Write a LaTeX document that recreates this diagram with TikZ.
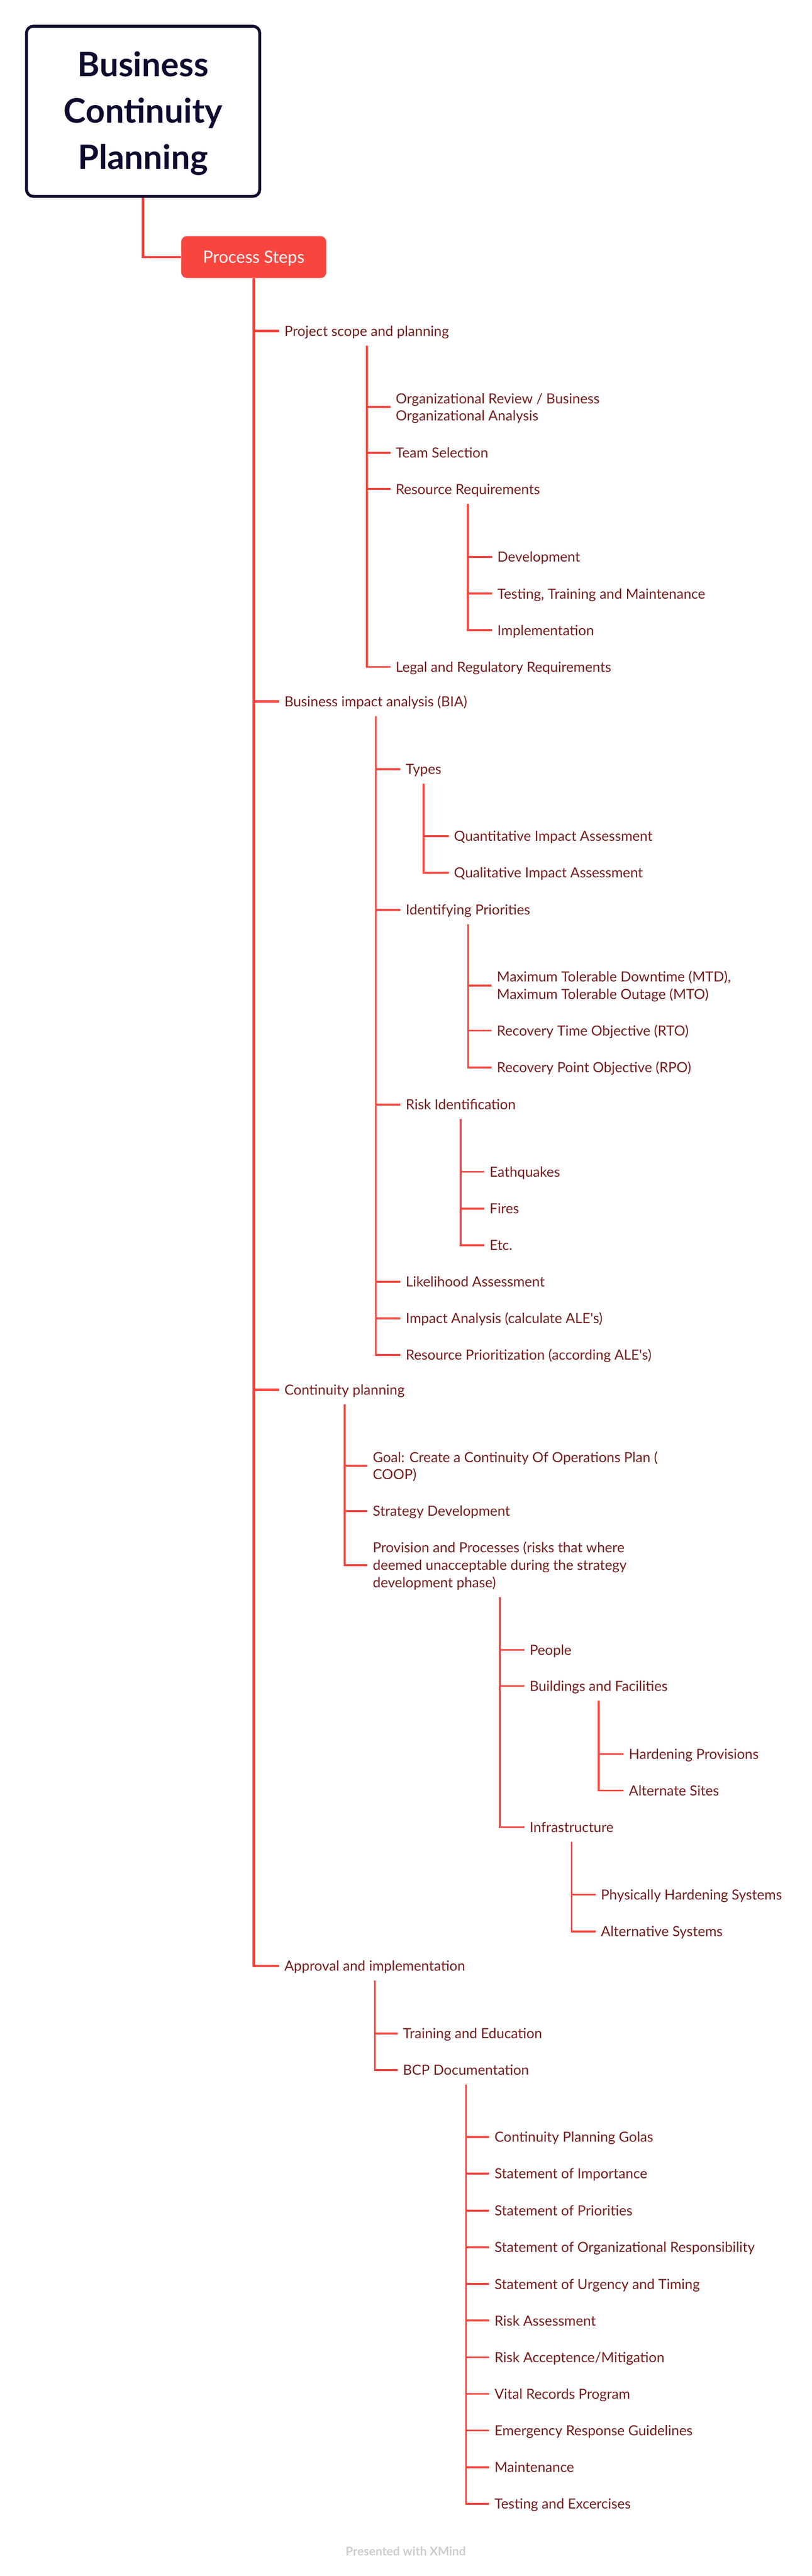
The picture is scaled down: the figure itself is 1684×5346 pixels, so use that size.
\documentclass[tikz,border=0pt]{standalone}
\usepackage{fontspec}
\setmainfont{Lato}
\definecolor{linered}{HTML}{F8463F}
\definecolor{txtred}{HTML}{761D1D}
\definecolor{navy}{HTML}{0D0B2E}
\definecolor{footgray}{HTML}{CDCDCD}
\newcommand\Lx[1]{\hbox{\vrule width0pt height28.4pt depth7.6pt\relax #1}}
\newcommand\Tx[1]{\vbox{\offinterlineskip #1}}
\newcommand\RL[1]{\hbox to 470pt{\hfil\vrule width0pt height72pt depth24pt\relax #1\hfil}}
\newcommand\br[2]{\draw[l2] ([xshift=-11pt]#2.west) -- (#2.west -| #1.south);}
\newcommand\vt[2]{\draw[l2] ([yshift=-12pt]#1.south) |- ([xshift=-11pt]#2.west);}
\begin{document}
\begin{tikzpicture}[x=1pt,y=-1pt,
  txt/.style={anchor=west, inner sep=0pt, text=txtred, font=\fontsize{29}{36}\selectfont},
  l1/.style={draw=linered, line width=5pt},
  l2/.style={draw=linered, line width=4pt},
  rootbox/.style={draw=navy, line width=6pt, rounded corners=14pt, fill=white, minimum width=484pt, minimum height=353pt, inner sep=0pt, text=navy, font=\fontsize{70}{80}\selectfont\bfseries},
  psbox/.style={fill=linered, rounded corners=12pt, minimum width=301pt, minimum height=87pt, inner sep=0pt, text=white, text height=24pt, text depth=0pt, font=\fontsize{35}{40}\selectfont}]
\useasboundingbox (0,0) rectangle (1684,5346);
\fill[white] (0,0) rectangle (1684,5346);
% root and main topic
\node[rootbox] (root) at (297,231) {\Tx{\RL{Business}\RL{Continuity}\RL{Planning}}};
\node[psbox] (ps) at (526.5,533.5) {Process Steps};
\draw[l1] (root.south) |- (ps.west);
% level 1
\node[txt] (L1a) at (590,687) {\Tx{\Lx{Project scope and planning}}};
\node[txt] (L1b) at (590,1456) {\Tx{\Lx{Business impact analysis (BIA)}}};
\node[txt] (L1c) at (590,2884) {\Tx{\Lx{Continuity planning}}};
\node[txt] (L1d) at (590,4080) {\Tx{\Lx{Approval and implementation}}};
\draw[l1] (ps.south) |- ([xshift=-11pt]L1d.west);
\foreach \n in {L1a,L1b,L1c}{\draw[l1] ([xshift=-11pt]\n.west) -- (\n.west -| ps.south);}
% project scope
\node[txt] (a1) at (821,845) {\Tx{\Lx{Organizational Review / Business}\Lx{Organizational Analysis}}};
\node[txt] (a2) at (821,940) {\Tx{\Lx{Team Selection}}};
\node[txt] (a3) at (821,1015) {\Tx{\Lx{Resource Requirements}}};
\node[txt] (a4) at (821,1384) {\Tx{\Lx{Legal and Regulatory Requirements}}};
\vt{L1a}{a4}\br{L1a}{a1}\br{L1a}{a2}\br{L1a}{a3}
\node[txt] (a31) at (1032,1156) {\Tx{\Lx{Development}}};
\node[txt] (a32) at (1032,1232) {\Tx{\Lx{Testing, Training and Maintenance}}};
\node[txt] (a33) at (1032,1308) {\Tx{\Lx{Implementation}}};
\vt{a3}{a33}\br{a3}{a31}\br{a3}{a32}
% BIA
\node[txt] (b1) at (842,1596) {\Tx{\Lx{Types}}};
\node[txt] (b2) at (842,1888) {\Tx{\Lx{Identifying Priorities}}};
\node[txt] (b3) at (842,2292) {\Tx{\Lx{Risk Identification}}};
\node[txt] (b4) at (842,2660) {\Tx{\Lx{Likelihood Assessment}}};
\node[txt] (b5) at (842,2736) {\Tx{\Lx{Impact Analysis (calculate ALE\textquotesingle s)}}};
\node[txt] (b6) at (842,2812) {\Tx{\Lx{Resource Prioritization (according ALE\textquotesingle s)}}};
\vt{L1b}{b6}\br{L1b}{b1}\br{L1b}{b2}\br{L1b}{b3}\br{L1b}{b4}\br{L1b}{b5}
\node[txt] (b11) at (942,1735) {\Tx{\Lx{Quantitative Impact Assessment}}};
\node[txt] (b12) at (942,1811) {\Tx{\Lx{Qualitative Impact Assessment}}};
\vt{b1}{b12}\br{b1}{b11}
\node[txt] (b21) at (1031,2045) {\Tx{\Lx{Maximum Tolerable Downtime (MTD),}\Lx{Maximum Tolerable Outage (MTO)}}};
\node[txt] (b22) at (1031,2139) {\Tx{\Lx{Recovery Time Objective (RTO)}}};
\node[txt] (b23) at (1031,2215) {\Tx{\Lx{Recovery Point Objective (RPO)}}};
\vt{b2}{b23}\br{b2}{b21}\br{b2}{b22}
\node[txt] (b31) at (1016,2432) {\Tx{\Lx{Eathquakes}}};
\node[txt] (b32) at (1016,2508) {\Tx{\Lx{Fires}}};
\node[txt] (b33) at (1016,2584) {\Tx{\Lx{Etc.}}};
\vt{b3}{b33}\br{b3}{b31}\br{b3}{b32}
% continuity planning
\node[txt] (c1) at (773.5,3042) {\Tx{\Lx{Goal: Create a Continuity Of Operations Plan (}\Lx{COOP)}}};
\node[txt] (c2) at (773.5,3136) {\Tx{\Lx{Strategy Development}}};
\node[txt] (c3) at (773.5,3248) {\Tx{\Lx{Provision and Processes (risks that where}\Lx{deemed unacceptable during the strategy}\Lx{development phase)}}};
\vt{L1c}{c3}\br{L1c}{c1}\br{L1c}{c2}
\node[txt] (c31) at (1099,3424) {\Tx{\Lx{People}}};
\node[txt] (c32) at (1099,3499) {\Tx{\Lx{Buildings and Facilities}}};
\node[txt] (c33) at (1099,3792) {\Tx{\Lx{Infrastructure}}};
\vt{c3}{c33}\br{c3}{c31}\br{c3}{c32}
\node[txt] (c321) at (1305,3640) {\Tx{\Lx{Hardening Provisions}}};
\node[txt] (c322) at (1305,3716) {\Tx{\Lx{Alternate Sites}}};
\vt{c32}{c322}\br{c32}{c321}
\node[txt] (c331) at (1247,3932) {\Tx{\Lx{Physically Hardening Systems}}};
\node[txt] (c332) at (1247,4008) {\Tx{\Lx{Alternative Systems}}};
\vt{c33}{c332}\br{c33}{c331}
% approval
\node[txt] (d1) at (836,4220) {\Tx{\Lx{Training and Education}}};
\node[txt] (d2) at (836,4296) {\Tx{\Lx{BCP Documentation}}};
\vt{L1d}{d2}\br{L1d}{d1}
\node[txt] (e1) at (1026,4435) {\Tx{\Lx{Continuity Planning Golas}}};
\node[txt] (e2) at (1026,4511) {\Tx{\Lx{Statement of Importance}}};
\node[txt] (e3) at (1026,4587.5) {\Tx{\Lx{Statement of Priorities}}};
\node[txt] (e4) at (1026,4664) {\Tx{\Lx{Statement of Organizational Responsibility}}};
\node[txt] (e5) at (1026,4740) {\Tx{\Lx{Statement of Urgency and Timing}}};
\node[txt] (e6) at (1026,4816) {\Tx{\Lx{Risk Assessment}}};
\node[txt] (e7) at (1026,4892) {\Tx{\Lx{Risk Acceptence/Mitigation}}};
\node[txt] (e8) at (1026,4968) {\Tx{\Lx{Vital Records Program}}};
\node[txt] (e9) at (1026,5044) {\Tx{\Lx{Emergency Response Guidelines}}};
\node[txt] (e10) at (1026,5120) {\Tx{\Lx{Maintenance}}};
\node[txt] (e11) at (1026,5196) {\Tx{\Lx{Testing and Excercises}}};
\vt{d2}{e11}
\foreach \n in {e1,e2,e3,e4,e5,e6,e7,e8,e9,e10}{\br{d2}{\n}}
% footer
\node[anchor=base, inner sep=0pt, text=footgray, font=\fontsize{25}{30}\selectfont\bfseries] (foot) at (842,5303.6) {Presented with XMind};
\end{tikzpicture}
\end{document}
